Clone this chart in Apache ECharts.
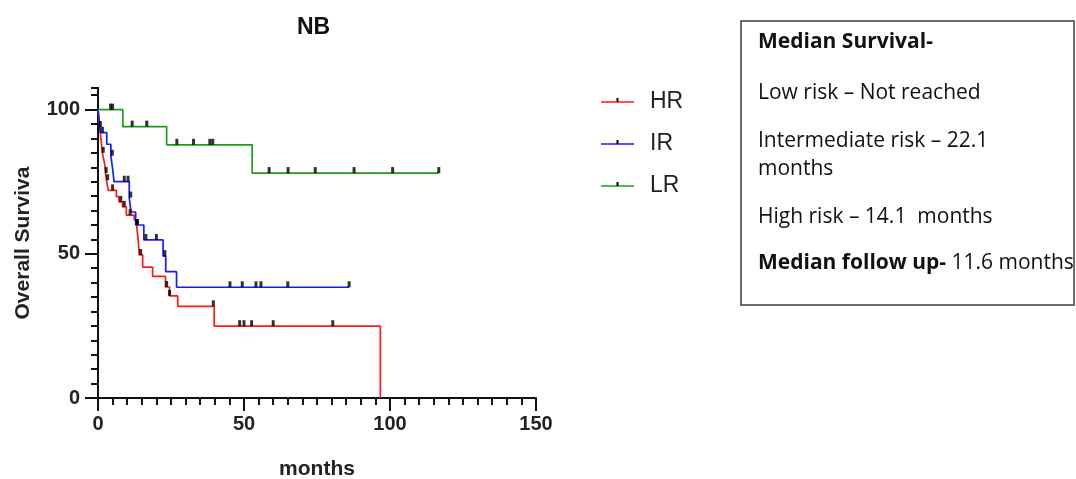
<!DOCTYPE html>
<html><head><meta charset="utf-8">
<script src="https://cdn.jsdelivr.net/npm/echarts@6/dist/echarts.min.js"></script>
<style>html,body{margin:0;padding:0;background:#fff}#c{width:1076px;height:479px}</style>
</head><body><div id="c"></div>
<script>
// ---- data ----
const groups = ['HR', 'IR', 'LR'];
const colors = ['#ff1a1a', '#1a1aff', '#1f9a1f'];

// Kaplan-Meier steps: event time (months) and survival (%) after the event
const hrTimes = [0, 0.3, 0.6, 0.9, 1.2, 1.5, 1.9, 2.3, 2.6, 2.9, 3.5, 6.3, 7.2, 8.4, 9.7, 12.4, 13.2, 13.6, 13.9, 14.1, 15.3, 18.7, 23.1, 24.5, 27.3, 39.8, 96.7];
const hrSurv  = [100, 97, 94, 91, 88, 85, 83, 81, 78, 75.5, 72, 69.8, 68, 66.3, 63.4, 61.8, 60.0, 56.5, 53, 49.6, 45.4, 42.2, 38.5, 35.4, 31.8, 24.9, 0];
const hrCensor = [0.8, 1.8, 2.8, 3.3, 5.0, 7.8, 9.0, 11.0, 13.4, 14.6, 23.5, 24.5, 39.5, 48.5, 50.0, 52.6, 60.0, 80.4];

const irTimes = [0, 0.4, 0.8, 3.0, 4.4, 5.0, 5.5, 10.7, 11.3, 12.9, 15.7, 22.3, 23.2, 26.9];
const irSurv  = [100, 96, 92, 88, 84, 79.5, 75, 69.5, 64.5, 60, 54.8, 49.2, 43.8, 38.4];
const irCensor = [1.5, 4.9, 9.0, 10.3, 11.2, 13.5, 16.4, 20.0, 22.9, 45.2, 49.4, 54.1, 55.8, 65.0, 86.0];

const lrTimes = [0, 8.5, 23.5, 52.8];
const lrSurv  = [100, 94.1, 87.8, 78.0];
const lrCensor = [4.3, 5.0, 11.7, 16.7, 27.0, 32.7, 38.3, 39.3, 58.6, 65.1, 74.4, 87.7, 100.9, 116.7];

const xTickValues = [0, 50, 100, 150];
const yTickValues = [0, 50, 100];

const boxLines = [
  '{b|Median Survival-}',
  'Low risk \u2013 Not reached',
  'Intermediate risk \u2013 22.1',
  'months',
  'High risk \u2013 14.1  months',
  '{b|Median follow up-} 11.6 months'
];
const boxBaselines = [49, 100, 148, 176, 224, 270];

// ---- build ----
const sets = [
  [hrTimes, hrSurv, hrCensor],
  [irTimes, irSurv, irCensor],
  [lrTimes, lrSurv, lrCensor]
];
function survAt(times, surv, t) {
  let s = surv[0];
  for (let i = 0; i < times.length; i++) if (times[i] <= t) s = surv[i];
  return s;
}
const series = [];
sets.forEach(([times, surv, cens], gi) => {
  const data = times.map((t, i) => [t, surv[i]]);
  const maxC = Math.max(...cens);
  if (maxC > times[times.length - 1]) data.push([maxC, surv[surv.length - 1]]);
  series.push({
    name: groups[gi], type: 'line', step: 'end', data, symbol: 'none',
    lineStyle: { color: colors[gi], width: 1.7 }, itemStyle: { color: colors[gi] },
    z: 3 + gi, clip: false
  });
});
sets.forEach(([times, surv, cens], gi) => {
  series.push({
    name: groups[gi] + ' censored', type: 'scatter', symbol: 'rect',
    symbolSize: [3, 6], symbolOffset: [0, -3],
    itemStyle: { color: '#000' }, z: 10,
    data: cens.map(t => [t, survAt(times, surv, t)])
  });
});

const font = '"Liberation Sans", Arial, sans-serif';
const boxFont = '"Open Sans", Lato, sans-serif';
const graphic = [];
// legend
groups.forEach((g, i) => {
  const y = 102 + i * 42;
  graphic.push({ type: 'line', shape: { x1: 601, y1: y, x2: 634, y2: y }, style: { stroke: colors[i], lineWidth: 1.7 } });
  graphic.push({ type: 'line', shape: { x1: 617.5, y1: y - 4, x2: 617.5, y2: y }, style: { stroke: '#000', lineWidth: 2 } });
  graphic.push({ type: 'text', x: 650, y: y, style: { text: g, font: '23px ' + font, fill: '#222', verticalAlign: 'middle' } });
});
// text box
graphic.push({ type: 'rect', shape: { x: 741, y: 21, width: 333, height: 284 }, style: { fill: '#fff', stroke: '#3c3c3c', lineWidth: 1.5 } });
boxLines.forEach((t, i) => {
  graphic.push({
    type: 'text', x: 758, y: boxBaselines[i] - 7,
    style: { text: t, font: '21px ' + boxFont, fill: '#111', verticalAlign: 'middle',
      rich: { b: { fontWeight: 'bold', fontSize: 21, fontFamily: boxFont, fill: '#111' } } }
  });
});

const axisLbl = { fontFamily: font, fontWeight: 'bold', fontSize: 20, color: '#222' };
const option = {
  animation: false,
  backgroundColor: '#fff',
  title: { text: 'NB', left: 297, top: 16, padding: 0,
    textStyle: { fontFamily: font, fontWeight: 'bold', fontSize: 23, color: '#111' } },
  grid: { left: 98, right: 540, top: 88, bottom: 81, containLabel: false, outerBoundsMode: 'none' },
  xAxis: [{
    type: 'value', min: 0, max: 150, interval: 50,
    axisLine: { lineStyle: { color: '#111', width: 2 } },
    axisTick: { length: 13, lineStyle: { color: '#111', width: 2 }, customValues: xTickValues },
    minorTick: { show: true, splitNumber: 10, length: 7, lineStyle: { color: '#111', width: 2 } },
    splitLine: { show: false }, minorSplitLine: { show: false },
    axisLabel: Object.assign({ margin: 16, customValues: xTickValues }, axisLbl),
    name: 'months', nameLocation: 'middle', nameGap: 61,
    nameTextStyle: { fontFamily: font, fontWeight: 'bold', fontSize: 21, color: '#222' }
  }],
  yAxis: [{
    type: 'value', min: 0, max: 107.5, interval: 50,
    axisLine: { lineStyle: { color: '#111', width: 2 } },
    axisTick: { length: 13, lineStyle: { color: '#111', width: 2 }, customValues: yTickValues },
    splitLine: { show: false },
    axisLabel: Object.assign({ margin: 18, customValues: yTickValues,
      formatter: v => (yTickValues.indexOf(v) >= 0 ? String(v) : '') }, axisLbl),
    name: 'Overall Surviva', nameLocation: 'middle', nameGap: 64, nameRotate: 90,
    nameTextStyle: { fontFamily: font, fontWeight: 'bold', fontSize: 21, color: '#222' }
  }, {
    type: 'value', min: 0, max: 107.5, interval: 5, position: 'left', offset: 0,
    axisLine: { show: true, lineStyle: { color: '#111', width: 2 } },
    axisTick: { length: 7, lineStyle: { color: '#111', width: 2 } },
    axisLabel: { show: false }, splitLine: { show: false }
  }],
  series,
  graphic
};
const chart = echarts.init(document.getElementById('c'), null, { renderer: 'canvas' });
chart.setOption(option);
</script>
</body></html>
